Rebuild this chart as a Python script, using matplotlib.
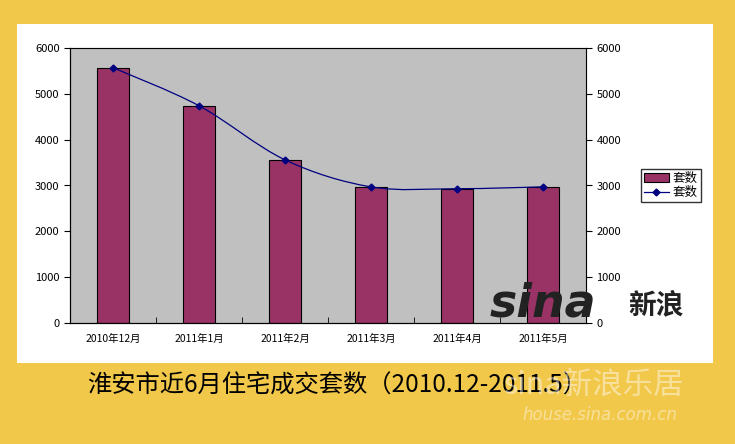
import numpy as np
import matplotlib.pyplot as plt
from matplotlib.patches import Rectangle, PathPatch
from matplotlib.path import Path
from matplotlib.lines import Line2D

plt.rcParams['font.family'] = ['Noto Sans CJK SC', 'DejaVu Sans']

months = ['2010年12月', '2011年1月', '2011年2月', '2011年3月', '2011年4月', '2011年5月']
bar_vals = [5570, 4740, 3560, 2970, 2930, 2970]
line_vals = [5570, 4740, 3560, 2970, 2930, 2970]
yticks = [0, 1000, 2000, 3000, 4000, 5000, 6000]

fig = plt.figure(figsize=(7.35, 4.44), dpi=100)
fig.patch.set_facecolor('#F2C84B')

# white panel behind the chart
bg = fig.add_axes([0, 0, 1, 1], zorder=-10)
bg.axis('off')
bg.set_xlim(0, 735)
bg.set_ylim(444, 0)
bg.add_patch(Rectangle((17, 24), 713 - 17, 363 - 24, facecolor='white', edgecolor='none'))

ax = fig.add_axes([70 / 735, 1 - 323 / 444, (586 - 70) / 735, (323 - 48) / 444])
ax.set_facecolor('#C0C0C0')
x = np.arange(len(months))
ax.bar(x, bar_vals, width=0.38, color='#993366', edgecolor='black', linewidth=0.8, label='套数', zorder=2)
ax.set_xlim(-0.5, len(months) - 0.5)
ax.set_ylim(0, 6000)
ax.set_yticks(yticks)
ax.set_xticks(x)
ax.set_xticklabels(months, fontsize=7.5)
ax.tick_params(axis='y', labelsize=8, direction='out', length=4)
ax.tick_params(axis='x', length=0, pad=8)
ax.set_xticks(np.arange(len(months) + 1) - 0.5, minor=True)
ax.tick_params(axis='x', which='minor', direction='in', length=4)
for s in ['top', 'right']:
    ax.spines[s].set_color('#808080')

ax2 = ax.twinx()
ax2.set_ylim(0, 6000)
ax2.set_yticks(yticks)
ax2.tick_params(axis='y', labelsize=8, direction='out', length=4)

# smoothed line like Excel: bezier segments through the data points
xs = list(x)
ys = list(line_vals)
verts = [(xs[0], ys[0])]
codes = [Path.MOVETO]
for i in range(len(xs) - 1):
    p0 = (xs[max(i - 1, 0)], ys[max(i - 1, 0)])
    p1 = (xs[i], ys[i])
    p2 = (xs[i + 1], ys[i + 1])
    p3 = (xs[min(i + 2, len(xs) - 1)], ys[min(i + 2, len(xs) - 1)])
    c1 = (p1[0] + (p2[0] - p0[0]) / 6, p1[1] + (p2[1] - p0[1]) / 6)
    c2 = (p2[0] - (p3[0] - p1[0]) / 6, p2[1] - (p3[1] - p1[1]) / 6)
    verts += [c1, c2, p2]
    codes += [Path.CURVE4] * 3
ax2.add_patch(PathPatch(Path(verts, codes), facecolor='none', edgecolor='#000080', linewidth=0.9, zorder=3))
ax2.plot(x, line_vals, linestyle='none', color='#000080', marker='D', markersize=3.5, zorder=4)

h1, l1 = ax.get_legend_handles_labels()
line_handle = Line2D([], [], color='#000080', linewidth=0.9, marker='D', markersize=3.5)
fig.legend(h1 + [line_handle], l1 + ['套数'], loc='upper left', bbox_to_anchor=(637 / 735, 1 - 165 / 444),
           fontsize=9, frameon=True, fancybox=False, edgecolor='black', borderpad=0.25,
           handlelength=2.0, handletextpad=0.3, labelspacing=0.1, borderaxespad=0.3)

fig.text(87 / 735, 1 - 386 / 444, '淮安市近6月住宅成交套数（2010.12-2011.5）', fontsize=17.5,
         ha='left', va='center', color='black')

# watermarks
fig.text(490 / 735, 1 - 304 / 444, 'sina', fontsize=33, fontweight='bold', fontstyle='italic',
         family='DejaVu Sans', color='#222222', ha='left', va='center', zorder=5)
fig.text(628 / 735, 1 - 305 / 444, '新浪', fontsize=20, fontweight='bold',
         color='#222222', ha='left', va='center', zorder=5)
fig.text(503 / 735, 1 - 385 / 444, 'sina新浪乐居', fontsize=22, color='white', alpha=0.45,
         ha='left', va='center', zorder=5)
fig.text(522 / 735, 1 - 415 / 444, 'house.sina.com.cn', fontsize=12, color='white', alpha=0.45,
         ha='left', va='center', fontstyle='italic', family='DejaVu Sans', zorder=5)

fig.savefig('out.png', dpi=100, facecolor=fig.get_facecolor())
